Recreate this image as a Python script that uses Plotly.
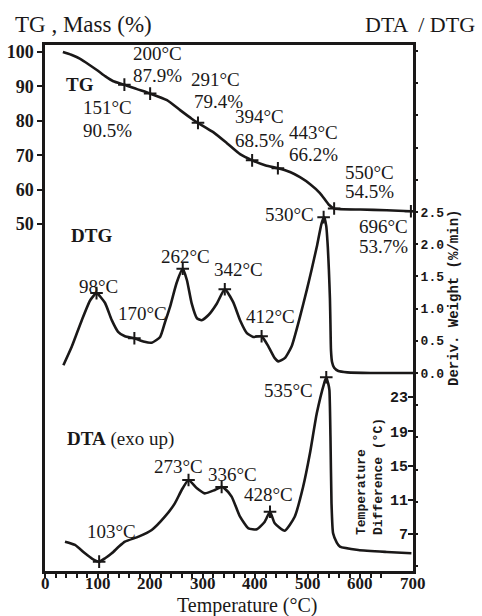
import plotly.graph_objects as go

# ---------------- data ----------------
tg_temp = [34, 50, 67, 84, 100, 115, 130, 151, 175, 200, 232, 257, 279, 291, 320, 346, 371, 394,
           420, 443, 466, 485, 505, 523, 540, 550, 600, 650, 696, 700]
tg_mass = [100, 99.2, 98.0, 96.3, 94.6, 92.9, 91.5, 90.5, 89.2, 87.9, 86.0, 83.1, 80.6, 79.4, 76.7,
           73.5, 70.3, 68.5, 67.0, 66.2, 65.1, 63.6, 61.5, 59.0, 55.6, 54.5, 54.2, 54.0, 53.7, 53.7]

dtg_temp = [35, 51, 70, 86, 98, 114, 127, 139, 152, 170, 187, 203, 219, 228, 238, 250, 262, 270,
            279, 289, 298, 311, 327, 342, 358, 371, 384, 396, 412, 425, 437, 444, 456, 469, 485,
            498, 507, 517, 526, 531, 535, 538, 540, 542, 543, 544, 546, 550, 558, 575, 620, 700]
dtg_val = [0.12, 0.41, 0.82, 1.13, 1.24, 1.09, 0.82, 0.64, 0.57, 0.54, 0.49, 0.47, 0.56, 0.78,
           1.03, 1.39, 1.62, 1.44, 1.08, 0.85, 0.82, 0.90, 1.08, 1.30, 1.10, 0.82, 0.62, 0.56,
           0.57, 0.41, 0.23, 0.18, 0.23, 0.41, 0.87, 1.29, 1.60, 1.96, 2.32, 2.42, 2.28, 1.95,
           1.60, 1.15, 0.75, 0.35, 0.17, 0.08, 0.03, 0.01, 0.0, 0.0]

dta_temp = [38, 57, 76, 90, 103, 115, 127, 140, 152, 178, 203, 228, 247, 260, 273, 289, 304, 323,
            336, 342, 355, 371, 387, 403, 418, 428, 437, 456, 475, 491, 504, 517, 531, 535, 539,
            541, 543, 545, 548, 555, 561, 596, 650, 697]
dta_val = [6.10, 5.72, 4.75, 4.10, 3.77, 4.20, 4.75, 5.50, 6.10, 6.69, 7.47, 9.02, 10.58, 12.14,
           13.31, 12.34, 11.75, 12.14, 12.50, 12.30, 11.36, 9.02, 7.66, 7.55, 8.44, 9.60, 8.25,
           7.39, 9.02, 12.52, 16.42, 21.09, 24.6, 25.3, 24.5, 23.8, 18.4, 10.6, 7.08, 6.0, 5.52,
           5.13, 4.90, 4.75]

tg_mark_t = [151, 200, 291, 394, 443, 550, 696]
tg_mark_m = [90.5, 87.9, 79.4, 68.5, 66.2, 54.5, 53.7]
dtg_mark_t = [98, 170, 262, 342, 412, 530]
dtg_mark_v = [1.24, 0.54, 1.62, 1.30, 0.57, 2.42]
dta_mark_t = [103, 273, 336, 428, 535]
dta_mark_v = [3.77, 13.31, 12.5, 9.60, 25.3]

x_ticks = [0, 100, 200, 300, 400, 500, 600, 700]
tg_ticks = [50, 60, 70, 80, 90, 100]
dtg_labels = [0.0, 0.5, 1.0, 1.5, 2.0, 2.5]
dta_ticks = [7, 11, 15, 19, 23]

# ---------------- layout helpers ----------------
W, H = 482, 616
L, R, T, B = 45, 413, 45, 571


def px(x):
    return (x - L) / (R - L)


def py(y):
    return (B - y) / (B - T)


INK = '#1a1818'
SERIF = 'Liberation Serif'
MONO = 'Liberation Mono'

fig = go.Figure()
curve = dict(color=INK, width=2.6, shape='spline', smoothing=0.5)
mk = dict(symbol='cross-thin', size=9, color=INK, line=dict(color=INK, width=2))

fig.add_trace(go.Scatter(x=tg_temp, y=tg_mass, mode='lines', line=curve, yaxis='y'))
fig.add_trace(go.Scatter(x=dtg_temp, y=dtg_val, mode='lines', line=curve, yaxis='y2'))
fig.add_trace(go.Scatter(x=dta_temp, y=dta_val, mode='lines', line=curve, yaxis='y3'))
fig.add_trace(go.Scatter(x=tg_mark_t, y=tg_mark_m, mode='markers', marker=mk, yaxis='y'))
fig.add_trace(go.Scatter(x=dtg_mark_t, y=dtg_mark_v, mode='markers', marker=mk, yaxis='y2'))
fig.add_trace(go.Scatter(x=dta_mark_t, y=dta_mark_v, mode='markers', marker=mk, yaxis='y3'))

# y ranges chosen so tick positions match the original figure
tg_range = [-50.87, 102.03]
dtg_range = [-3.075, 5.093]
dta_range = [2.68, 64.11]

dtg_all = [round(-3.0 + 0.5 * i, 1) for i in range(17)]
dtg_text = [f'{v:.1f}' if v in dtg_labels else '' for v in dtg_all]

fig.update_layout(
    width=W, height=H,
    margin=dict(l=L, r=W - R, t=T, b=H - B, autoexpand=False),
    paper_bgcolor='white', plot_bgcolor='white',
    showlegend=False,
    xaxis=dict(range=[0, 700], showline=True, linewidth=2.5, linecolor=INK, mirror=True,
               ticks='outside', ticklen=4, tickwidth=2, tickcolor=INK, tickvals=x_ticks,
               showticklabels=False,
               minor=dict(dtick=20, ticks='outside', ticklen=4, tickwidth=1.5, tickcolor=INK),
               showgrid=False, zeroline=False),
    yaxis=dict(range=tg_range, showline=True, linewidth=2.5, linecolor=INK, mirror=True,
               ticks='outside', ticklen=5, tickwidth=2, tickcolor=INK, tickvals=tg_ticks,
               tickfont=dict(family=SERIF, size=18, color=INK, weight='bold'),
               showgrid=False, zeroline=False),
    yaxis2=dict(range=dtg_range, overlaying='y', side='right', anchor='x', showline=False,
                ticks='outside', ticklen=4, tickwidth=2, tickcolor=INK,
                tickvals=dtg_all, ticktext=dtg_text,
                tickfont=dict(family=MONO, size=13, color=INK, weight='bold'),
                showgrid=False, zeroline=False),
    yaxis3=dict(range=dta_range, overlaying='y', side='right', anchor='x', showline=False,
                ticks='inside', ticklabelposition='inside', ticklen=5, tickwidth=2,
                tickcolor=INK, tickvals=dta_ticks,
                tickfont=dict(family=MONO, size=15, color=INK, weight='bold'),
                showgrid=False, zeroline=False),
)

ann = []


def add(text, x, y, size=19, family=SERIF, bold=False, angle=0, align='center', xanchor='center'):
    ann.append(dict(text=text, x=px(x), y=py(y), xref='paper', yref='paper', showarrow=False,
                    xanchor=xanchor, yanchor='middle', textangle=angle, align=align,
                    font=dict(family=family, size=size, color=INK,
                              weight='bold' if bold else 'normal')))


# x tick labels, placed on the x axis scale
for v in x_ticks:
    ann.append(dict(text=str(v), x=v, xref='x', y=py(583), yref='paper', showarrow=False,
                    xanchor='center', yanchor='middle',
                    font=dict(family=SERIF, size=17, color=INK, weight='bold')))

# TG labels
tg_pos = [(107, 108, 107, 130), (157, 54, 157, 75), (215, 79, 218, 101), (259, 117, 259, 140),
          (313, 132, 313, 154), (369, 172, 369, 191), (383, 227, 383, 247)]
for t, m, (x1, y1, x2, y2) in zip(tg_mark_t, tg_mark_m, tg_pos):
    add(f'{t}°C', x1, y1)
    add(f'{m}%', x2, y2)

dtg_pos = [(98, 286), (142, 313), (185, 256), (238, 269), (270, 316), (289, 214)]
for t, (x, y) in zip(dtg_mark_t, dtg_pos):
    add(f'{t}°C', x, y)

dta_pos = [(111, 531), (178, 466), (232, 474), (268, 494), (288, 390)]
for t, (x, y) in zip(dta_mark_t, dta_pos):
    add(f'{t}°C', x, y)

add('<b>TG</b>', 80, 84, size=19)
add('<b>DTG</b>', 91, 235, size=19)
add('<b>DTA</b> (exo up)', 120, 439, size=19)

add('TG , Mass (%)', 83, 25, size=23)
add('DTA  / DTG', 420, 25, size=22)
add('Temperature (°C)', 247, 605, size=20)

add('Deriv. Weight (%/min)', 454, 298, size=14, family=MONO, bold=True, angle=-90)
add('Temperature<br>Difference (°C)', 370, 477, size=13, family=MONO, bold=True, angle=-90,
    align='left')

fig.update_layout(annotations=ann)
fig.write_html('out.html')
